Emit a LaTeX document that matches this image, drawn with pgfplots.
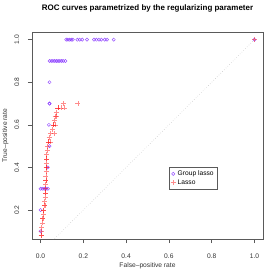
\documentclass[border=0pt]{standalone}
\usepackage{pgfplots}
\pgfplotsset{compat=1.18}
\usepackage{fontspec}
\setmainfont{Liberation Sans}
\definecolor{glcol}{RGB}{120,30,255}
\definecolor{fg}{RGB}{90,90,90}
\begin{document}
\begin{tikzpicture}
\useasboundingbox (-32bp,-41bp) rectangle (248bp,239bp);
\begin{axis}[
  scale only axis, width=231bp, height=207bp,
  xmin=-0.04, xmax=1.04, ymin=0.064, ymax=1.036,
  axis line style={fg, line width=0.5pt},
  tick style={fg, line width=0.5pt},
  tick align=outside, major tick length=4bp,
  xtick pos=bottom, ytick pos=left,
  xtick={0,0.2,...,1.0}, ytick={0.2,0.4,...,1.0},
  xticklabels={0.0,0.2,0.4,0.6,0.8,1.0},
  yticklabels={0.2,0.4,0.6,0.8,1.0},
  /pgf/number format/assume math mode=true,
  tick label style={font=\fontsize{6.7}{8}\selectfont, text=black!80},
  xticklabel style={anchor=base, yshift=-15.2bp},
  yticklabel style={rotate=90, anchor=base, yshift=8.8bp},
  title={\textbf{ROC curves parametrized by the regularizing parameter}},
  title style={font=\fontsize{8}{9}\selectfont, at={(axis description cs:0.5,1)}, anchor=base, yshift=15.5bp},
  xlabel={False--positive rate}, ylabel={True--positive rate},
  label style={font=\fontsize{6.7}{8}\selectfont, text=black!80},
  xlabel style={at={(axis description cs:0.5,-0.1377)}, anchor=base},
  ylabel style={at={(axis description cs:-0.1082,0.5)}, anchor=base, rotate=0},
  legend style={at={(axis description cs:0.593,0.348)}, anchor=north west,
    font=\fontsize{6.7}{8}\selectfont, draw=fg, line width=0.5pt, inner sep=1.5pt,
    row sep=-1.5pt, cells={anchor=west}},
  legend cell align=left,
  clip=true,
]
\addplot[gray!50, dotted, line width=0.5pt, forget plot] coordinates {(0,0)(1,1)};
\addplot[only marks, mark=o, mark size=1.6bp, glcol, opacity=0.75, mark options={line width=0.5pt}] coordinates {
(0,0.1)(0,0.2)(0,0.3)(0.008,0.3)(0.017,0.3)(0.025,0.3)(0.034,0.3)
(0.034,0.4)(0.042,0.5)(0.039,0.6)(0.042,0.7)(0.042,0.7)(0.042,0.8)
(0.042,0.9)(0.050,0.9)(0.058,0.9)(0.066,0.9)(0.074,0.9)(0.082,0.9)(0.090,0.9)(0.098,0.9)(0.106,0.9)(0.116,0.9)
(0.120,1)(0.128,1)(0.136,1)(0.144,1)(0.151,1)(0.172,1)(0.183,1)(0.195,1)(0.217,1)
(0.250,1)(0.261,1)(0.273,1)(0.284,1)(0.300,1)(0.311,1)(0.342,1)
(1,1)
};
\addlegendentry{Group lasso}
\addplot[only marks, mark=+, mark size=2.5bp, red, opacity=0.45, mark options={line width=0.6pt}] coordinates {
(0.003,0.08)(0.003,0.08)(0.003,0.10)(0.005,0.12)(0.008,0.14)(0.011,0.16)(0.013,0.18)(0.015,0.20)(0.015,0.20)
(0.018,0.22)(0.019,0.24)(0.021,0.26)(0.022,0.28)(0.022,0.28)(0.023,0.30)(0.024,0.32)(0.025,0.34)(0.025,0.34)
(0.025,0.36)(0.026,0.38)(0.026,0.40)(0.026,0.40)(0.027,0.42)(0.028,0.44)(0.028,0.44)(0.029,0.46)
(0.031,0.48)(0.033,0.50)(0.036,0.52)(0.036,0.52)(0.040,0.54)(0.047,0.56)(0.055,0.58)(0.060,0.60)(0.060,0.60)
(0.063,0.62)(0.068,0.64)(0.073,0.66)(0.081,0.68)(0.081,0.68)(0.095,0.68)(0.113,0.68)
(0.105,0.70)(0.175,0.70)
(0.010,0.16)(0.020,0.22)(0.045,0.52)(0.065,0.56)(0.068,0.60)(0.075,0.64)
(1,1)
};
\addlegendentry{Lasso}
\end{axis}
\end{tikzpicture}
\end{document}
